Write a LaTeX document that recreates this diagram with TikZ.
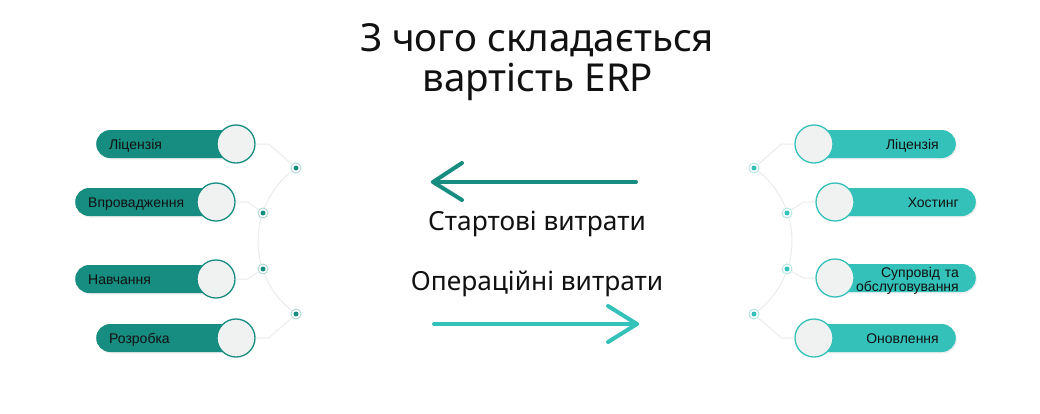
\documentclass[tikz,border=0pt]{standalone}
\usepackage{fontspec}
\setmainfont{Liberation Sans}
\newfontfamily\headfont{Noto Sans}
\usetikzlibrary{shadows,calc}
\definecolor{tealdark}{HTML}{178C80}
\definecolor{teallight}{HTML}{33C1B9}
\definecolor{circfill}{HTML}{F0F2F1}
\definecolor{arcgray}{HTML}{EAEDEC}
\definecolor{txt}{HTML}{111111}
\tikzset{
  pillbase/.style={rounded corners=14pt, minimum height=28pt, inner ysep=0pt,
    font=\fontsize{14}{14}\selectfont, text=txt, text height=10.3pt, text depth=0pt,
    drop shadow={shadow xshift=1pt, shadow yshift=-1.5pt, opacity=0.12}},
  lpill/.style={pillbase, fill=tealdark, anchor=west, text width=118pt, align=left, inner xsep=13pt},
  rpill/.style={pillbase, fill=teallight, anchor=east, text width=111pt, align=right, inner xsep=17pt},
  lcirc/.style={circle, minimum size=38pt, inner sep=0pt, fill=circfill, draw=tealdark, line width=1.3pt},
  rcirc/.style={circle, minimum size=38pt, inner sep=0pt, fill=circfill, draw=teallight, line width=1.3pt},
  ldot/.style={circle, minimum size=10pt, inner sep=0pt, fill=white, draw=tealdark!35, line width=0.9pt,
    path picture={\fill[tealdark] (path picture bounding box.center) circle (2.5pt);}},
  rdot/.style={circle, minimum size=10pt, inner sep=0pt, fill=white, draw=teallight!40, line width=0.9pt,
    path picture={\fill[teallight] (path picture bounding box.center) circle (2.5pt);}},
  conn/.style={draw=arcgray, line width=1pt},
  bigarrow/.style={line width=4pt, line cap=round, line join=round},
  title/.style={font=\headfont\fontsize{38.5}{38.5}\selectfont, text=txt, anchor=base, inner sep=0pt},
  mid/.style={font=\headfont\fontsize{26.3}{26.3}\selectfont, text=txt, anchor=base, inner sep=0pt}
}
\begin{document}
\begin{tikzpicture}[x=1pt, y=-1pt]
\useasboundingbox[fill=white] (0,0) rectangle (1040,413);

% title
\node[title] (t1) at (537,51.5) {З чого складається};
\node[title] (t2) at (538,91) {вартість ERP};

% arcs (behind)
\draw[conn] (296,168) arc[start angle=-125, end angle=-235, radius=89];
\draw[conn] (754,168) arc[start angle=-55, end angle=55, radius=89];

% left side
\node[lpill] (lp1) at (96,144) {Ліцензія};
\node[lpill] (lp2) at (75,202) {Впровадження};
\node[lpill] (lp3) at (75,279) {Навчання};
\node[lpill] (lp4) at (96,338) {Розробка};
\node[lcirc] (lc1) at (236,144) {};
\node[lcirc] (lc2) at (216,202) {};
\node[lcirc] (lc3) at (216,279) {};
\node[lcirc] (lc4) at (236,338) {};
\node[ldot] (ld1) at (296,168) {};
\node[ldot] (ld2) at (263,213) {};
\node[ldot] (ld3) at (263,269) {};
\node[ldot] (ld4) at (296,314) {};
\draw[conn] (lc1.east) -- ++(13,0) -- (ld1);
\draw[conn] (lc2.east) -- ++(12,0) -- (ld2);
\draw[conn] (lc3.east) -- ++(12,0) -- (ld3);
\draw[conn] (lc4.east) -- ++(13,0) -- (ld4);

% right side
\node[rpill] (rp1) at (956,144) {Ліцензія};
\node[rpill] (rp2) at (976,202) {Хостинг};
\node[rpill, font=\fontsize{14}{11}\selectfont, text depth=11pt] (rp3) at (976,278) {Супровід та\\обслуговування};
\node[rpill] (rp4) at (956,338) {Оновлення};
\node[rcirc] (rc1) at (814,144) {};
\node[rcirc] (rc2) at (835,202) {};
\node[rcirc] (rc3) at (835,278) {};
\node[rcirc] (rc4) at (814,338) {};
\node[rdot] (rd1) at (754,168) {};
\node[rdot] (rd2) at (787,213) {};
\node[rdot] (rd3) at (787,269) {};
\node[rdot] (rd4) at (754,314) {};
\draw[conn] (rc1.west) -- ++(-13,0) -- (rd1);
\draw[conn] (rc2.west) -- ++(-12,0) -- (rd2);
\draw[conn] (rc3.west) -- ++(-12,0) -- (rd3);
\draw[conn] (rc4.west) -- ++(-13,0) -- (rd4);

% middle
\coordinate (a1s) at (636,182);
\coordinate (a1e) at (433,182);
\draw[bigarrow, tealdark] (a1s) -- (a1e);
\draw[bigarrow, tealdark] ($(a1e)+(29,-19)$) -- (a1e) -- ($(a1e)+(29,18)$);
\node[mid] (st) at (537,230) {Стартові витрати};
\node[mid] (op) at (537,290) {Операційні витрати};
\coordinate (a2s) at (434,324);
\coordinate (a2e) at (637,324);
\draw[bigarrow, teallight] (a2s) -- (a2e);
\draw[bigarrow, teallight] ($(a2e)+(-29,-18)$) -- (a2e) -- ($(a2e)+(-29,18)$);
\end{tikzpicture}
\end{document}
